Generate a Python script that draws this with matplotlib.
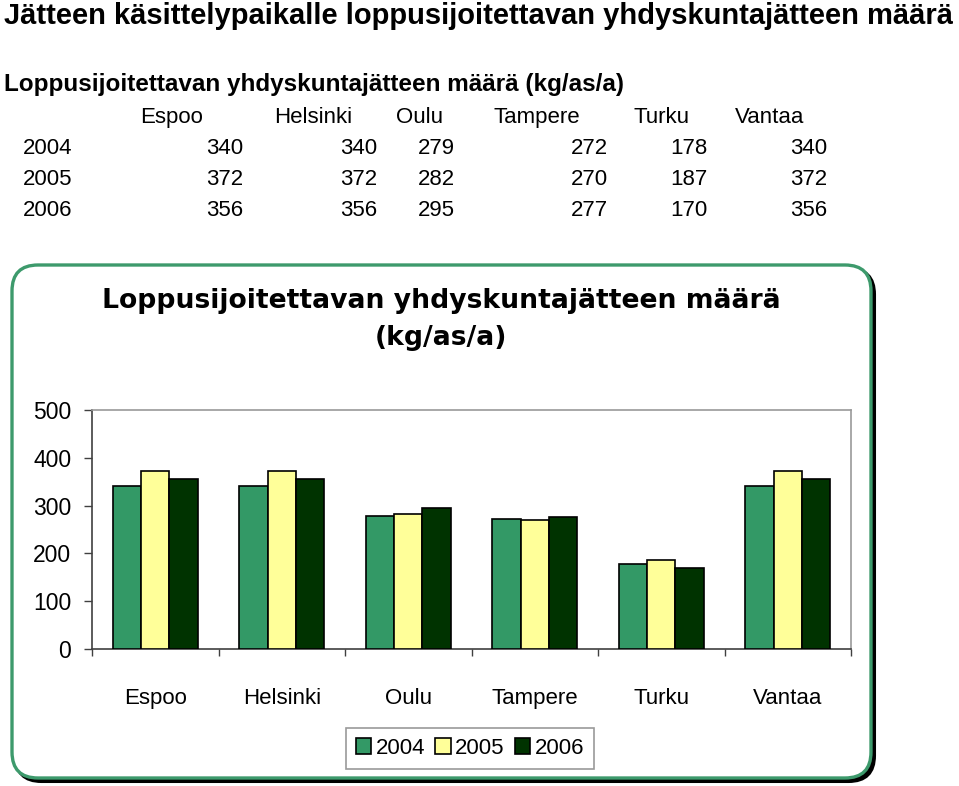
import matplotlib
matplotlib.use('Agg')
import matplotlib.pyplot as plt
import numpy as np
from matplotlib.patches import FancyBboxPatch

plt.rcParams['font.family'] = ['Liberation Sans', 'DejaVu Sans']

cities = ['Espoo', 'Helsinki', 'Oulu', 'Tampere', 'Turku', 'Vantaa']
years = ['2004', '2005', '2006']
v2004 = [340, 340, 279, 272, 178, 340]
v2005 = [372, 372, 282, 270, 187, 372]
v2006 = [356, 356, 295, 277, 170, 356]
series = [v2004, v2005, v2006]
colors = ['#339966', '#ffff99', '#003300']

W, H = 959, 786
fig = plt.figure(figsize=(W / 100, H / 100), dpi=100)


def px(x, y):
    return x / W, 1 - y / H


# text above the chart
fig.text(*px(4, 16), 'Jätteen käsittelypaikalle loppusijoitettavan yhdyskuntajätteen määrä',
         fontsize=21, fontweight='bold', ha='left', va='center')
fig.text(*px(4, 84), 'Loppusijoitettavan yhdyskuntajätteen määrä (kg/as/a)',
         fontsize=17.5, fontweight='bold', ha='left', va='center')

head_left = [140, 274, 396, 493, 633, 735]
val_right = [243, 377, 455, 608, 707, 827]
for name, xl in zip(cities, head_left):
    fig.text(*px(xl, 123), name, fontsize=16, ha='left', va='baseline')
for r, (yr, vals) in enumerate(zip(years, series)):
    yy = 154 + r * 31
    fig.text(*px(23, yy), yr, fontsize=16, ha='left', va='baseline')
    for v, xr in zip(vals, val_right):
        fig.text(*px(xr, yy), str(v), fontsize=16, ha='right', va='baseline')

# rounded chart frame with shadow (inch units so corners stay round)
x0, y0 = 0.12, (H - 778) / 100
bw, bh = (871 - 12) / 100, (778 - 265) / 100
shadow = FancyBboxPatch((x0 + 0.035, y0 - 0.035), bw, bh,
                        boxstyle='round,pad=0,rounding_size=0.26',
                        transform=fig.dpi_scale_trans, facecolor='black',
                        edgecolor='black', linewidth=2.2, zorder=-3)
frame = FancyBboxPatch((x0, y0), bw, bh,
                       boxstyle='round,pad=0,rounding_size=0.26',
                       transform=fig.dpi_scale_trans, facecolor='white',
                       edgecolor='#3d9a6c', linewidth=2.4, zorder=-2)
fig.patches.extend([shadow, frame])

fig.text(*px(441, 301), 'Loppusijoitettavan yhdyskuntajätteen määrä',
         fontsize=19.2, fontweight='bold', family='DejaVu Sans', ha='center', va='center')
fig.text(*px(441, 338), '(kg/as/a)',
         fontsize=19.2, fontweight='bold', family='DejaVu Sans', ha='center', va='center')

l, r, t, b = 92, 851, 410, 649
ax = fig.add_axes([l / W, 1 - b / H, (r - l) / W, (b - t) / H])
ax.set_facecolor('none')

x = np.arange(len(cities))
bar_w = 0.225
for i, (vals, c, yr) in enumerate(zip(series, colors, years)):
    ax.bar(x + (i - 1) * bar_w, vals, width=bar_w, color=c, edgecolor='black',
           linewidth=1.2, label=yr, zorder=3)

ax.set_xlim(-0.5, len(cities) - 0.5)
ax.set_ylim(0, 500)
ax.set_yticks(np.arange(0, 501, 100))
ax.set_xticks(x)
ax.set_xticklabels(cities)
ax.set_xticks(np.arange(-0.5, len(cities)), minor=True)
ax.tick_params(axis='x', which='major', length=0, pad=28, labelsize=16)
ax.tick_params(axis='x', which='minor', length=5, width=1, color='#404040', direction='out')
ax.tick_params(axis='y', length=6, width=1, color='#404040', pad=9, labelsize=16.5)

for side in ['left', 'bottom']:
    ax.spines[side].set_color('#404040')
    ax.spines[side].set_linewidth(1.2)
for side in ['top', 'right']:
    ax.spines[side].set_color('#9a9a9a')
    ax.spines[side].set_linewidth(1.2)

leg = ax.legend(loc='center', bbox_to_anchor=px(470, 748), bbox_transform=fig.transFigure,
                ncol=3, fontsize=16, frameon=True, fancybox=False, edgecolor='#808080',
                handlelength=0.7, handleheight=0.7, handletextpad=0.2,
                columnspacing=0.45, borderpad=0.45, borderaxespad=0)
leg.get_frame().set_linewidth(1.2)

fig.savefig('out.png', dpi=100)
